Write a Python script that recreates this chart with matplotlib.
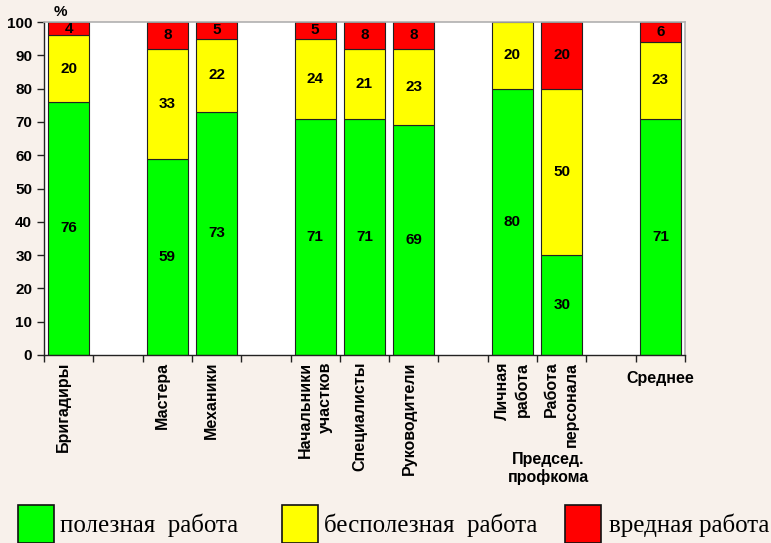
import matplotlib
matplotlib.use("Agg")
import matplotlib.pyplot as plt
from matplotlib.patches import Rectangle

# Slots along the x axis; empty strings are spacer slots between groups
categories = ["Бригадиры", "", "Мастера", "Механики", "", "Начальники\nучастков",
              "Специалисты", "Руководители", "", "Личная\nработа", "Работа\nперсонала",
              "", "Среднее"]
useful = [76, None, 59, 73, None, 71, 71, 69, None, 80, 30, None, 71]
useless = [20, None, 33, 22, None, 24, 21, 23, None, 20, 50, None, 23]
harmful = [4, None, 8, 5, None, 5, 8, 8, None, 0, 20, None, 6]
series_names = ["полезная  работа", "бесполезная  работа", "вредная работа"]
y_ticks = list(range(0, 101, 10))

colors = ["#00FF00", "#FFFF00", "#FF0000"]
bg = "#F8F1EB"

fig = plt.figure(figsize=(7.71, 5.43), dpi=100, facecolor=bg)
ax = fig.add_axes([44 / 771, 1 - 355 / 543, (685 - 44) / 771, (355 - 22) / 543])
ax.set_facecolor("white")

sans = "Liberation Sans"
width = 0.83
for i, cat in enumerate(categories):
    if useful[i] is None:
        continue
    bottom = 0
    for val, col in zip((useful[i], useless[i], harmful[i]), colors):
        if val == 0:
            continue
        ax.bar(i, val, bottom=bottom, width=width, color=col,
               edgecolor="#222222", linewidth=0.8, zorder=2)
        ax.text(i, bottom + val / 2, str(val), ha="center", va="center",
                fontsize=11, fontweight="bold", family=sans, zorder=3)
        bottom += val

ax.set_xlim(-0.5, len(categories) - 0.5)
ax.set_ylim(0, 100)
ax.set_yticks(y_ticks)
ax.set_yticklabels([str(t) for t in y_ticks], fontsize=11, fontweight="bold", family=sans)
ax.set_xticks([k - 0.5 for k in range(len(categories) + 1)])
ax.set_xticklabels([])
ax.tick_params(axis="both", direction="out", length=5, width=1, color="#222222")
for side in ("top", "right"):
    ax.spines[side].set_color("#B0B0B0")
    ax.spines[side].set_linewidth(1.2)
for side in ("left", "bottom"):
    ax.spines[side].set_color("#222222")
    ax.spines[side].set_linewidth(1)

fig.text(60 / 771, 1 - 12 / 543, "%", ha="center", va="center",
         fontsize=11, fontweight="bold", family=sans)

# Category labels below the axis
trans = ax.get_xaxis_transform()
for i, cat in enumerate(categories):
    if not cat:
        continue
    if cat == "Среднее":
        ax.text(i, -0.07, cat, transform=trans, ha="center", va="center",
                fontsize=11.5, fontweight="bold", family=sans)
    else:
        shift = 0.0 if "\n" in cat else -0.1
        ax.text(i + shift, -0.02, cat, transform=trans, rotation=90, ha="center",
                va="top", multialignment="right", linespacing=1.4,
                fontsize=11.5, fontweight="bold", family=sans)

ax.text(9.73, -0.292, "Председ.\nпрофкома", transform=trans, ha="center", va="top",
        linespacing=1.15, fontsize=11.5, fontweight="bold", family=sans)

# Legend along the bottom edge
serif = "Liberation Serif"
leg_x = [18, 282, 565]
txt_x = [60, 324, 609]
for x0, tx, col, name in zip(leg_x, txt_x, colors, series_names):
    fig.patches.append(Rectangle((x0 / 771, 0), 36 / 771, 38 / 543,
                                 transform=fig.transFigure, facecolor=col,
                                 edgecolor="#111111", linewidth=1.2))
    fig.text(tx / 771, 1 - 525 / 543, name, ha="left", va="center",
             fontsize=18, family=serif)

fig.savefig("out.png", dpi=100, facecolor=bg)
